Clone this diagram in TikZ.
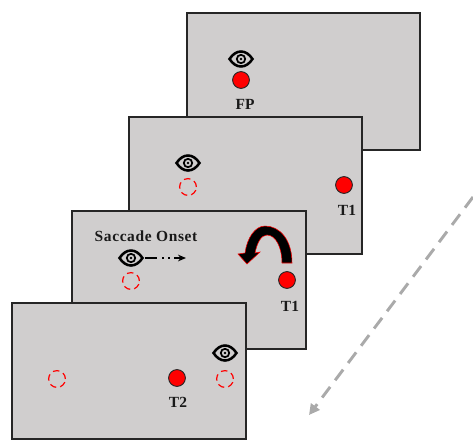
\documentclass[tikz,border=0pt]{standalone}
\usepackage{fontspec}
\setmainfont{Liberation Serif}
\usetikzlibrary{arrows.meta}
\definecolor{screengray}{RGB}{208,206,206}
\definecolor{pathgray}{RGB}{170,170,170}
\tikzset{
    panel/.style={draw=black!85,line width=1.1pt,fill=screengray},
    target/.style={circle,draw=black!85,fill=red,line width=0.7pt,minimum size=12.6pt,inner sep=0pt},
    ghost/.style={circle,draw=red,line width=0.9pt,dash pattern=on 4.9pt off 3.1pt,minimum size=12.6pt,inner sep=0pt},
    lab/.style={font=\bfseries\fontsize{11.6pt}{13pt}\selectfont,text=black!90,inner sep=0pt},
    eyeicon/.pic={
        \draw[black,line width=1.9pt,fill=screengray] (-11.5,0) .. controls (-5,-10) and (5,-10) .. (11.5,0) .. controls (5,10) and (-5,10) .. cycle;
        \draw[black,line width=1.3pt] (0,0) circle (4.2);
        \fill[black] (0,0) circle (1.4);
    }
}
\begin{document}
\begin{tikzpicture}[x=0.75pt,y=-0.75pt]
    \useasboundingbox (0,0) rectangle (473,440);
    % richting
    \coordinate (pathstart) at (473,197);
    \coordinate (pathend) at (309,415);
    \draw[pathgray,line width=2.2pt,dash pattern=on 10pt off 6.2pt,-{Triangle[length=8pt,width=8pt]}] (pathstart) -- (pathend);
    % scherm 1
    \draw[panel] (187,13) rectangle (420,150);
    \pic at (241,59) {eyeicon};
    \node[target] (fp) at (241,80) {};
    \node[lab] (fplabel) at (245,104) {FP};
    % scherm 2
    \draw[panel] (129,117) rectangle (362,254);
    \pic at (188,163) {eyeicon};
    \node[ghost] (ghosta) at (188,187) {};
    \node[target] (ta) at (344,185) {};
    \node[lab] (talabel) at (347,210) {T1};
    % scherm 3
    \draw[panel] (72,211) rectangle (306,349);
    \node[lab,font=\bfseries\fontsize{11.6pt}{13pt}\selectfont\addfontfeatures{LetterSpace=4}] (onset) at (146,236) {Saccade Onset};
    \pic at (131,258) {eyeicon};
    \coordinate (gazestart) at (145,258);
    \coordinate (gazeend) at (186,258);
    \draw[black,line width=0.9pt,dash pattern=on 9pt off 4pt on 1pt off 3.5pt on 1pt off 3.5pt on 20pt,-{Stealth[length=6pt,width=5pt]}] (gazestart) -- (gazeend);
    \node[ghost] (ghostb) at (131,281) {};
    \node[target] (tb) at (287,280) {};
    \node[lab] (tblabel) at (290,306) {T1};
    % boog
    \draw[red,fill=black,line width=0.4pt] (292,263) .. controls (292,240) and (280,226) .. (265,226)
        .. controls (255,226) and (247,238) .. (245,253) -- (238,254) -- (247,264) -- (260,252) -- (255,253)
        .. controls (257,243) and (261,235) .. (267,235) .. controls (276,235) and (282,248) .. (282,263) -- cycle;
    % scherm 4
    \draw[panel] (12,303) rectangle (246,439);
    \pic at (225,353) {eyeicon};
    \node[ghost] (ghostc) at (57,379) {};
    \node[ghost] (ghostd) at (225,379) {};
    \node[target] (tc) at (177,378) {};
    \node[lab] (tclabel) at (178,402) {T2};
\end{tikzpicture}
\end{document}
